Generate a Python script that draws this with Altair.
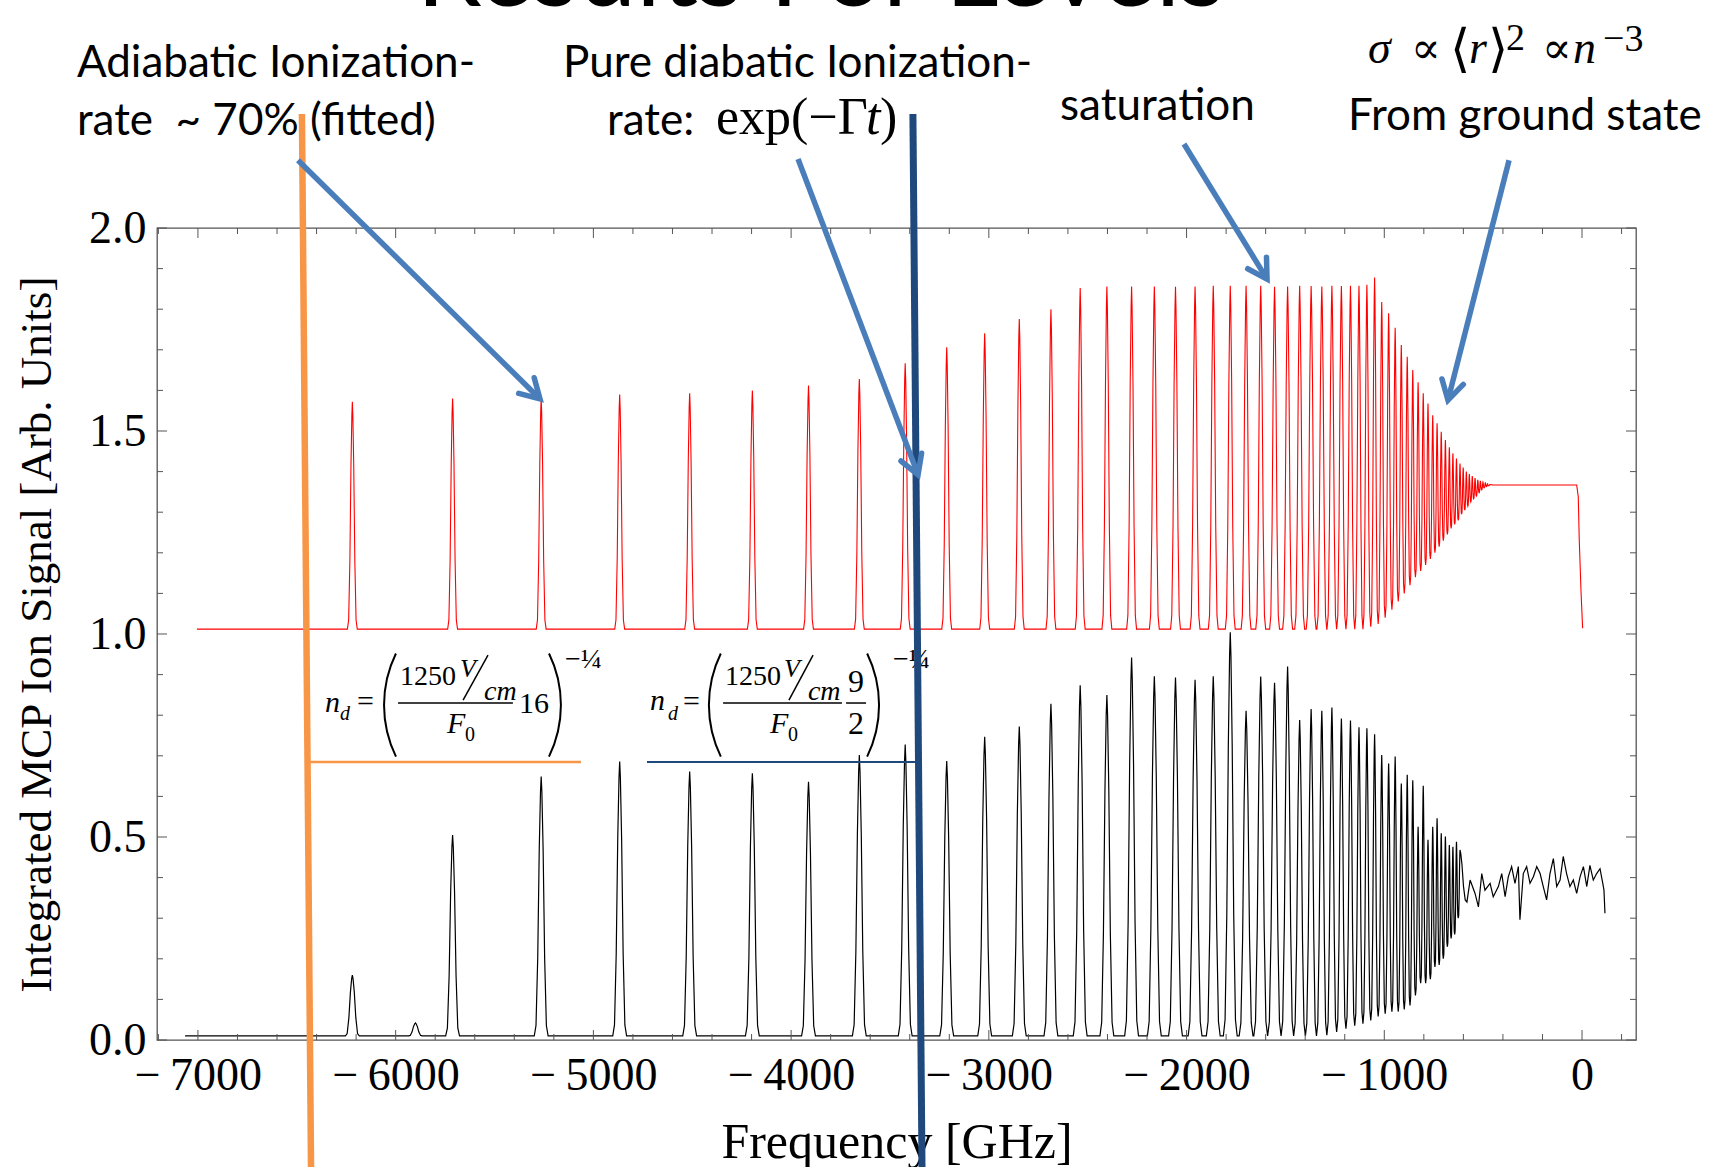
import math
import altair as alt
import pandas as pd

# ---------------- layout ----------------
W, H = 1479, 812
PAD = {"left": 157, "top": 228, "right": 89, "bottom": 127}
X_DOM = [-7207, 273]
Y_DOM = [0, 2]

# ---------------- data ----------------
# peak positions (GHz), n = 23 ... 84
peak_freq = [-6219, -5712, -5264, -4867, -4513, -4196, -3912, -3655, -3423, -3213,
             -3021, -2846, -2686, -2538, -2403, -2278, -2163, -2056, -1957, -1865,
             -1779, -1699, -1625, -1555, -1489, -1428, -1370, -1316, -1265, -1217,
             -1171, -1128, -1088, -1049, -1013, -978, -945, -914, -884, -856,
             -829, -803, -779, -755, -733, -712, -691, -671, -653, -635,
             -617, -601, -585, -570, -555, -541, -527, -514, -501, -489, -478, -466]

# red (upper) trace: peak tops and the valley that follows each peak
red_peak = [1.572, 1.580, 1.580, 1.590, 1.593, 1.600, 1.612, 1.628, 1.667, 1.706,
            1.741, 1.776, 1.800, 1.852, 1.856, 1.856, 1.856, 1.855, 1.856, 1.858,
            1.858, 1.858, 1.858, 1.855, 1.856, 1.858, 1.857, 1.856, 1.858, 1.857,
            1.858, 1.858, 1.860, 1.878, 1.818, 1.790, 1.754, 1.712, 1.683, 1.650,
            1.620, 1.593, 1.568, 1.539, 1.519, 1.498, 1.478, 1.460, 1.445, 1.432,
            1.420, 1.410, 1.400, 1.394, 1.389, 1.384, 1.380, 1.377, 1.374, 1.372, 1.370, 1.368]
red_valley = [1.012] * 32 + [1.018,
              1.025, 1.04, 1.06, 1.08, 1.10, 1.12, 1.14, 1.155, 1.17, 1.185,
              1.20, 1.215, 1.23, 1.245, 1.26, 1.27, 1.28, 1.295, 1.305, 1.315,
              1.325, 1.333, 1.34, 1.348, 1.355, 1.36, 1.363, 1.365, 1.367]
red_start = (-7005, 1.012)
red_tail_freq = [-27, -19, -14, -5, 3]
red_tail_val = [1.367, 1.338, 1.232, 1.104, 1.014]

# black (lower) trace: n = 23 ... 73 plus a small spike near -5900
black_freq = [-6219, -5900, -5712, -5264, -4867, -4513, -4196, -3912, -3655, -3423,
              -3213, -3021, -2846, -2686, -2538, -2403, -2278, -2163, -2056, -1957,
              -1865, -1779, -1699, -1625, -1555, -1489, -1428, -1370, -1316, -1265,
              -1217, -1171, -1128, -1088, -1049, -1013, -978, -945, -914, -884,
              -856, -829, -803, -779, -755, -733, -712, -691, -671, -653, -635, -617]
black_peak = [0.160, 0.042, 0.505, 0.649, 0.686, 0.661, 0.657, 0.636, 0.702, 0.728,
              0.687, 0.747, 0.772, 0.828, 0.874, 0.850, 0.942, 0.896, 0.893, 0.887,
              0.896, 1.004, 0.811, 0.895, 0.880, 0.920, 0.788, 0.815, 0.811, 0.819,
              0.792, 0.787, 0.770, 0.768, 0.753, 0.702, 0.681, 0.698, 0.632, 0.653,
              0.640, 0.525, 0.626, 0.493, 0.525, 0.546, 0.509, 0.501, 0.480, 0.476, 0.488, 0.468]
black_valley = [0.01] * 28 + [0.012, 0.02, 0.028, 0.035, 0.04, 0.048, 0.058, 0.065, 0.07, 0.07,
                              0.075, 0.085, 0.11, 0.14, 0.14, 0.15, 0.18, 0.185, 0.2, 0.23,
                              0.25, 0.26, 0.3, 0.34]
black_start = (-7065, 0.01)
black_tail_freq = [-566, -541, -524, -507, -491, -465, -449, -423, -406, -389,
                   -373, -356, -339, -322, -314, -297, -280, -263, -246, -229,
                   -212, -196, -179, -162, -145, -128, -111, -95, -78, -61,
                   -44, -27, -10, 7, 24, 40, 57, 74, 91, 105, 111, 116]
black_tail_val = [0.394, 0.361, 0.328, 0.41, 0.369, 0.386, 0.353, 0.378, 0.41, 0.353,
                  0.402, 0.427, 0.386, 0.427, 0.296, 0.41, 0.427, 0.386, 0.402, 0.427,
                  0.41, 0.378, 0.345, 0.41, 0.447, 0.378, 0.394, 0.452, 0.41, 0.378,
                  0.394, 0.361, 0.402, 0.427, 0.378, 0.43, 0.394, 0.41, 0.422, 0.386, 0.369, 0.312]

# peak line shape (offset in half-widths, fraction of peak height)
profile_off = [-1.0, -0.75, -0.5, -0.28, -0.1, 0.0]
profile_rel = [0.0, 0.04, 0.3, 0.72, 0.94, 1.0]

# axis ticks
x_major = [-7000, -6000, -5000, -4000, -3000, -2000, -1000, 0]
x_minor = [v for v in range(-7200, 201, 200) if v % 1000 != 0]
y_major = [0.0, 0.5, 1.0, 1.5, 2.0]
y_minor = [0.1, 0.2, 0.3, 0.4, 0.6, 0.7, 0.8, 0.9, 1.1, 1.2, 1.3, 1.4, 1.6, 1.7, 1.8, 1.9]

# annotations (data units)
ann_text = ["Adiabatic Ionization-", "rate\u00a0\u00a0~ 70% (fitted)", "Pure diabatic Ionization-",
            "rate:", "saturation", "From ground state"]
ann_f = [-7612, -7612, -5154, -4931, -2640, -1184]
ann_s = [2.372, 2.229, 2.372, 2.229, 2.266, 2.241]

title_text = ["Results For Levels"]
title_f = [-3849]
title_s = [2.548]

serif_text = ["exp(\u2212\u0393", ")",
              "\u221d", "\u27e8", "\u27e9", "2", "\u221d", "\u22123",
              "=", "1250", "0", "16", "\u2212\u00bc",
              "=", "1250", "0", "9", "2", "\u2212\u00bc"]
serif_f = [-4380, -3550,
           -865, -668, -476, -385, -203, 106,
           -6196, -5978, -5649, -5376, -5144,
           -4547, -4334, -4016, -3712, -3712, -3485]
serif_s = [2.2315, 2.2315,
           2.406, 2.400, 2.400, 2.438, 2.406, 2.436,
           0.810, 0.874, 0.736, 0.805, 0.916,
           0.810, 0.874, 0.736, 0.857, 0.754, 0.916]
serif_size = [52, 52,
              44, 52, 52, 38, 44, 38,
              30, 28, 20, 30, 28,
              30, 28, 20, 32, 32, 28]

ital_text = ["t", "\u03c3", "r", "n",
             "n", "d", "V", "cm", "F",
             "n", "d", "V", "cm", "F"]
ital_f = [-3621, -1083, -572, -46,
          -6357, -6282, -5675, -5553, -5740,
          -4714, -4623, -4036, -3915, -4107]
ital_s = [2.2315, 2.406, 2.406, 2.406,
          0.808, 0.788, 0.894, 0.837, 0.756,
          0.813, 0.788, 0.894, 0.837, 0.756]
ital_size = [52, 46, 46, 46,
             30, 20, 26, 28, 30,
             30, 20, 26, 28, 30]

paren_left_f = [-5464, -3821]
paren_right_f = [-5759, -4150]
paren_s = [0.825, 0.825]

# black formula strokes: slashes and fraction bars
stroke_f1 = [-5659, -4011, -5988, -4344, -3722]
stroke_s1 = [0.837, 0.837, 0.830, 0.830, 0.830]
stroke_f2 = [-5533, -3889, -5407, -3743, -3621]
stroke_s2 = [0.948, 0.948, 0.830, 0.830, 0.830]

# coloured guide lines
orange_f1, orange_s1, orange_f2, orange_s2 = [-6474], [2.281], [-6428], [-0.313]
navy_f1, navy_s1, navy_f2, navy_s2 = [-3384], [2.281], [-3338], [-0.313]
orange_h_f1, orange_h_f2, orange_h_s = [-6433], [-5063], [0.685]
navy_h_f1, navy_h_f2, navy_h_s = [-4729], [-3373], [0.685]

# blue arrows
arrow_f1 = [-6494, -3965, -2013, -369]
arrow_s1 = [2.167, 2.170, 2.207, 2.167]
arrow_f2 = [-5270, -3358, -1593, -678]
arrow_s2 = [1.579, 1.392, 1.874, 1.576]

ORANGE = "#F79646"
NAVY = "#1F497D"
BLUE = "#4A7EBB"
FRAME = "#555555"
SERIF = "Liberation Serif, DejaVu Serif, DejaVu Sans"


# ---------------- build tables ----------------
def trace(start, freqs, peaks, valleys, w, tail_f, tail_v):
    pts = [start]
    before = start[1]
    n = len(freqs)
    prof = list(zip(profile_off, profile_rel))
    for i in range(n):
        fp, h, after = freqs[i], peaks[i], valleys[i]
        wl = min(w, (fp - freqs[i - 1]) / 2) if i > 0 else w
        wr = min(w, (freqs[i + 1] - fp) / 2) if i < n - 1 else w
        for o, r in prof:
            pts.append((fp + o * wl, before + r * (h - before)))
        for o, r in prof[-2::-1]:
            pts.append((fp - o * wr, after + r * (h - after)))
        before = after
    pts += list(zip(tail_f, tail_v))
    return pd.DataFrame({"f": [p[0] for p in pts], "s": [p[1] for p in pts],
                         "i": list(range(len(pts)))})


red_df = trace(red_start, peak_freq, red_peak, red_valley, 25, red_tail_freq, red_tail_val)
black_df = trace(black_start, black_freq, black_peak, black_valley, 35,
                 black_tail_freq, black_tail_val)

xs = alt.Scale(domain=X_DOM, nice=False, zero=False)
ys = alt.Scale(domain=Y_DOM, nice=False, zero=False)

x_axis = alt.Axis(
    values=x_major,
    labelExpr="datum.value < 0 ? '\u2212\u2009' + format(-datum.value, 'd') : format(datum.value, 'd')",
    labelFont=SERIF, labelFontSize=46, labelColor="black", labelPadding=13,
    labelOverlap=False, ticks=False, tickSize=0, domain=False, grid=False,
    title="Frequency [GHz]", titleFont=SERIF, titleFontSize=50, titleFontWeight="normal",
    titleColor="black", titleY=117, titleBaseline="alphabetic",
)
y_axis = alt.Axis(
    values=y_major, format=".1f",
    labelFont=SERIF, labelFontSize=46, labelColor="black", labelPadding=11,
    labelOverlap=False, ticks=False, tickSize=0, domain=False, grid=False,
    title="Integrated MCP Ion Signal [Arb. Units]", titleFont=SERIF, titleFontSize=45,
    titleFontWeight="normal", titleColor="black", titleX=-107, titleY=H / 2,
    titleAngle=-90, titleBaseline="alphabetic", titleAlign="center",
)


def ex(field="f"):
    return alt.X(f"{field}:Q", scale=xs, axis=x_axis)


def ey(field="s"):
    return alt.Y(f"{field}:Q", scale=ys, axis=y_axis)


black_layer = alt.Chart(black_df).mark_line(color="black", strokeWidth=1.2).encode(
    x=ex(), y=ey(), order="i:Q")
red_layer = alt.Chart(red_df).mark_line(color="#ff0000", strokeWidth=1.1).encode(
    x=ex(), y=ey(), order="i:Q")


# ---- inward ticks ----
def xtick(values, y0, y1):
    return alt.Chart(pd.DataFrame({"f": values})).mark_rule(color=FRAME, strokeWidth=1).encode(
        x=ex(), y=alt.value(y0), y2=alt.value(y1))


def ytick(values, x0, x1):
    return alt.Chart(pd.DataFrame({"s": values})).mark_rule(color=FRAME, strokeWidth=1).encode(
        y=ey(), x=alt.value(x0), x2=alt.value(x1))


ticks = [
    xtick(x_major, H, H - 10), xtick(x_minor, H, H - 6),
    xtick(x_major, 0, 10), xtick(x_minor, 0, 6),
    ytick(y_major, 0, 10), ytick(y_minor, 0, 6),
    ytick(y_major, W, W - 10), ytick(y_minor, W, W - 6),
]


def seg(f1, s1, f2, s2, color, width):
    df = pd.DataFrame({"f": f1, "s": s1, "f2": f2, "s2": s2})
    return alt.Chart(df).mark_rule(color=color, strokeWidth=width).encode(
        x=ex(), y=ey(), x2=alt.X2("f2:Q"), y2=alt.Y2("s2:Q"))


# formula pieces
formula_strokes = seg(stroke_f1, stroke_s1, stroke_f2, stroke_s2, "black", 1.5)
paren_l = alt.Chart(pd.DataFrame({"f": paren_left_f, "s": paren_s})).mark_arc(
    theta=4.258, theta2=5.166, outerRadius=118.6, innerRadius=116.6, color="black"
).encode(x=ex(), y=ey())
paren_r = alt.Chart(pd.DataFrame({"f": paren_right_f, "s": paren_s})).mark_arc(
    theta=1.117, theta2=2.025, outerRadius=118.6, innerRadius=116.6, color="black"
).encode(x=ex(), y=ey())

serif_layer = alt.Chart(pd.DataFrame({"t": serif_text, "f": serif_f, "s": serif_s, "fs": serif_size})
                        ).mark_text(align="left", baseline="alphabetic", font=SERIF, color="black").encode(
    x=ex(), y=ey(), text="t:N", size=alt.Size("fs:Q", scale=None))
ital_layer = alt.Chart(pd.DataFrame({"t": ital_text, "f": ital_f, "s": ital_s, "fs": ital_size})
                       ).mark_text(align="left", baseline="alphabetic", font=SERIF, fontStyle="italic",
                                   color="black").encode(
    x=ex(), y=ey(), text="t:N", size=alt.Size("fs:Q", scale=None))

ann_layer = alt.Chart(pd.DataFrame({"t": ann_text, "f": ann_f, "s": ann_s})).mark_text(
    align="left", baseline="alphabetic", font="Lato", fontSize=44, color="black"
).encode(x=ex(), y=ey(), text="t:N")
title_layer = alt.Chart(pd.DataFrame({"t": title_text, "f": title_f, "s": title_s})).mark_text(
    align="center", baseline="alphabetic", font="Lato", fontSize=104, color="black"
).encode(x=ex(), y=ey(), text="t:N")

# guide lines
orange_v = seg(orange_f1, orange_s1, orange_f2, orange_s2, ORANGE, 6.5)
navy_v = seg(navy_f1, navy_s1, navy_f2, navy_s2, NAVY, 7)
orange_h = seg(orange_h_f1, orange_h_s, orange_h_f2, orange_h_s, ORANGE, 2.5)
navy_h = seg(navy_h_f1, navy_h_s, navy_h_f2, navy_h_s, NAVY, 2)

# arrows
px_f = W / (X_DOM[1] - X_DOM[0])
px_s = H / (Y_DOM[1] - Y_DOM[0])
arrow_ang = [math.degrees(math.atan2(-(b2 - b1) * px_s, (a2 - a1) * px_f))
             for a1, b1, a2, b2 in zip(arrow_f1, arrow_s1, arrow_f2, arrow_s2)]
arrow_shaft = seg(arrow_f1, arrow_s1, arrow_f2, arrow_s2, BLUE, 5.5)
arrow_head = alt.Chart(pd.DataFrame({"f": arrow_f2, "s": arrow_s2, "ang": arrow_ang})).mark_point(
    shape="M -1 -0.58 L 0 0 L -1 0.58", size=1444, filled=False, strokeWidth=5.5,
    color=BLUE, opacity=1, strokeJoin="miter", strokeCap="round"
).encode(x=ex(), y=ey(), angle=alt.Angle("ang:Q", scale=None))

chart = alt.layer(
    black_layer, red_layer, *ticks,
    formula_strokes, paren_l, paren_r, serif_layer, ital_layer,
    orange_h, navy_h, orange_v, navy_v,
    arrow_shaft, arrow_head,
    ann_layer, title_layer,
).properties(
    width=W, height=H,
    autosize=alt.AutoSizeParams(type="none"),
    padding=PAD,
).configure(background="white").configure_view(stroke=FRAME, strokeWidth=1.3)

chart.save("out.html", embed_options={"renderer": "svg", "actions": False})
